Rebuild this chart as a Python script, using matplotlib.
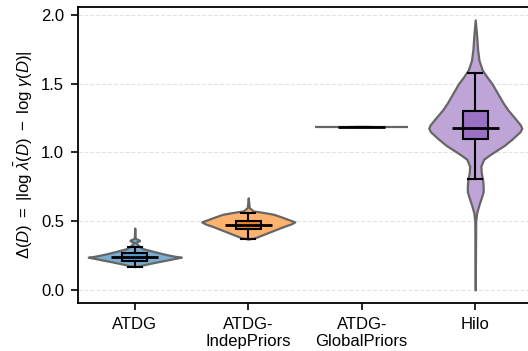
import matplotlib
matplotlib.use("Agg")
import matplotlib.pyplot as plt
import numpy as np

plt.rcParams["font.family"] = ["Liberation Sans", "DejaVu Sans"]
plt.rcParams["mathtext.fontset"] = "custom"
plt.rcParams["mathtext.rm"] = "Liberation Sans"
plt.rcParams["mathtext.it"] = "Liberation Sans:italic"

categories = ["ATDG", "ATDG-\nIndepPriors", "ATDG-\nGlobalPriors", "Hilo"]

# Density profiles: (value, relative half-width) from top to bottom
atdg_vals = [0.45, 0.375, 0.362, 0.358, 0.345, 0.31, 0.30, 0.283, 0.265, 0.255, 0.245, 0.238,
             0.228, 0.218, 0.205, 0.196, 0.185, 0.177, 0.17]
atdg_dens = [0.0, 0.01, 0.10, 0.10, 0.02, 0.12, 0.18, 0.37, 0.58, 0.71, 0.86, 1.0,
             0.84, 0.70, 0.50, 0.37, 0.22, 0.12, 0.0]

indep_vals = [0.67, 0.60, 0.575, 0.565, 0.55, 0.53, 0.51, 0.495, 0.48, 0.46, 0.44, 0.42, 0.40, 0.38, 0.37]
indep_dens = [0.0, 0.02, 0.10, 0.30, 0.55, 0.72, 0.88, 1.0, 0.92, 0.75, 0.60, 0.45, 0.30, 0.15, 0.0]

glob_vals = [1.188]
glob_dens = [1.0]

hilo_vals = [1.964, 1.85, 1.75, 1.67, 1.60, 1.55, 1.50, 1.43, 1.36, 1.31, 1.25, 1.20, 1.176,
             1.15, 1.10, 1.05, 1.02, 0.98, 0.95, 0.90, 0.85, 0.80, 0.75, 0.715, 0.68, 0.62,
             0.56, 0.50, 0.0]
hilo_dens = [0.0, 0.03, 0.05, 0.08, 0.15, 0.25, 0.36, 0.48, 0.60, 0.70, 0.85, 0.97, 1.0,
             0.96, 0.80, 0.62, 0.48, 0.30, 0.18, 0.12, 0.13, 0.16, 0.17, 0.17, 0.14, 0.08,
             0.03, 0.01, 0.0]

# Box statistics per category
whis_lo = [0.17, 0.368, 1.188, 0.81]
q1 = [0.213, 0.441, 1.188, 1.10]
median = [0.238, 0.472, 1.188, 1.176]
q3 = [0.267, 0.50, 1.188, 1.30]
whis_hi = [0.31, 0.562, 1.188, 1.58]

violin_colors = ["#79add2", "#ffb26e", "#bfa4d7", "#bfa4d7"]
box_colors = ["#5a9bcb", "#f08424", "#9b9b9b", "#9b72c3"]

profiles = [(atdg_vals, atdg_dens), (indep_vals, indep_dens),
            (glob_vals, glob_dens), (hilo_vals, hilo_dens)]

fig = plt.figure(figsize=(5.28, 3.51), dpi=100)
ax = fig.add_axes([78 / 528, 48 / 351, 454 / 528, 296.3 / 351])

half = 0.41
edge = "#666666"
for i, (vals, dens) in enumerate(profiles):
    v = np.asarray(vals)
    d = np.asarray(dens) * half
    if len(v) == 1:
        ax.hlines(v[0], i - d[0], i + d[0], color=edge, lw=1.6, zorder=2)
        continue
    ax.fill_betweenx(v, i - d, i + d, facecolor=violin_colors[i],
                     edgecolor=edge, lw=1.6, zorder=2)

stats = []
for i in range(len(categories)):
    stats.append(dict(med=median[i], q1=q1[i], q3=q3[i],
                      whislo=whis_lo[i], whishi=whis_hi[i], fliers=[]))

bp = ax.bxp(stats, positions=range(len(categories)), widths=0.22,
            capwidths=0.12, patch_artist=True, showfliers=False,
            boxprops=dict(edgecolor="black", lw=1.5),
            whiskerprops=dict(color="black", lw=1.5),
            capprops=dict(color="black", lw=1.5),
            medianprops=dict(color="none"), zorder=3, manage_ticks=False)
for patch, c in zip(bp["boxes"], box_colors):
    patch.set_facecolor(c)

ax.hlines(median, np.arange(len(categories)) - 0.205,
          np.arange(len(categories)) + 0.205, color="black", lw=2.0, zorder=4)

ax.set_xlim(-0.5, 3.5)
ax.set_ylim(-0.095, 2.06)
ax.set_xticks(range(len(categories)))
ax.set_xticklabels(categories, fontsize=12, linespacing=1.15)
ax.set_yticks([0.0, 0.5, 1.0, 1.5, 2.0])
ax.set_yticklabels(["0.0", "0.5", "1.0", "1.5", "2.0"], fontsize=12)
ax.yaxis.grid(True, ls="--", color="#e3e3e3", lw=0.8)
ax.set_axisbelow(True)
ax.tick_params(direction="out", length=5, width=1.2, colors="black", pad=5)
for s in ax.spines.values():
    s.set_linewidth(1.3)
ax.set_ylabel(r"$\Delta(D)\ =\ |\log\,\bar{\lambda}(D)\ -\ \log\,\gamma(D)|$",
              fontsize=12, labelpad=4)

fig.savefig("out.png", dpi=100)
